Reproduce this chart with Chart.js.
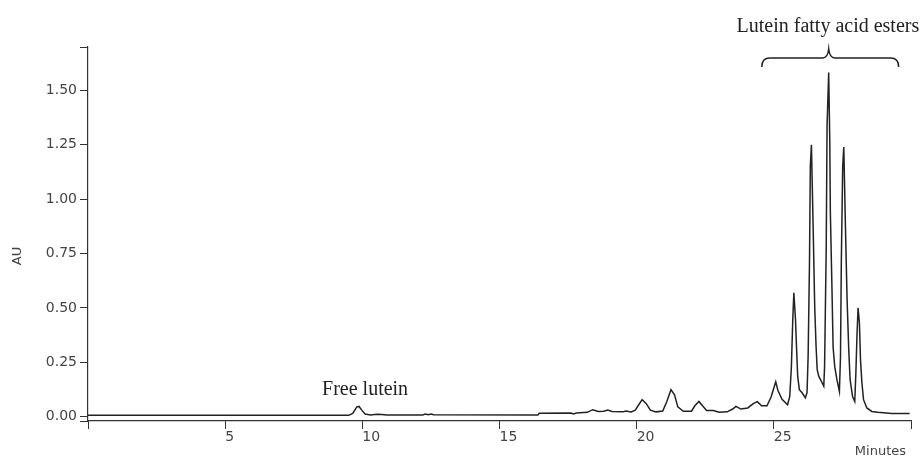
<!DOCTYPE html>
<html>
<head>
<meta charset="utf-8">
<script src="https://cdn.jsdelivr.net/npm/chart.js@4/dist/chart.umd.min.js"></script>
<style>
  html, body { margin: 0; padding: 0; background: #fff; }
  #wrap { width: 924px; height: 461px; position: relative; }
</style>
</head>
<body>
<div id="wrap"><canvas id="chromatogram"></canvas></div>
<script>
// retention time (min) and absorbance (AU)
const minutes = [
    0, 9.5, 9.65, 9.8, 9.88, 9.98, 10.1, 10.3, 10.45, 10.55, 10.7, 10.9,
    12.2, 12.3, 12.4, 12.5, 12.6, 16.4, 16.45, 17.6, 17.7, 17.8, 18.2, 18.4,
    18.6, 18.8, 18.95, 19.1, 19.5, 19.6, 19.8, 19.95, 20.05, 20.2, 20.35, 20.5,
    20.7, 20.95, 21.1, 21.25, 21.38, 21.5, 21.7, 22.0, 22.12, 22.27, 22.4, 22.55,
    22.8, 23.0, 23.3, 23.5, 23.62, 23.8, 24.05, 24.25, 24.4, 24.55, 24.75, 24.9,
    25.07, 25.15, 25.3, 25.5, 25.58, 25.64, 25.69, 25.73, 25.79, 25.83, 25.87, 25.93,
    26.03, 26.15, 26.21, 26.25, 26.3, 26.33, 26.37, 26.43, 26.49, 26.54, 26.58, 26.64,
    26.76, 26.82, 26.85, 26.88, 26.91, 26.94, 27.0, 27.04, 27.06, 27.12, 27.16, 27.22,
    27.3, 27.39, 27.43, 27.46, 27.51, 27.55, 27.61, 27.67, 27.73, 27.78, 27.87, 27.95,
    27.99, 28.03, 28.07, 28.12, 28.16, 28.21, 28.27, 28.39, 28.57, 28.79, 29.3, 29.95
];
const absorbance = [
    0.006, 0.006, 0.015, 0.045, 0.047, 0.03, 0.012, 0.008, 0.01, 0.011, 0.01, 0.008,
    0.008, 0.012, 0.009, 0.012, 0.009, 0.008, 0.016, 0.017, 0.012, 0.017, 0.02, 0.032,
    0.024, 0.025, 0.03, 0.024, 0.022, 0.026, 0.022, 0.03, 0.05, 0.078, 0.06, 0.03,
    0.022, 0.026, 0.07, 0.124, 0.1, 0.045, 0.025, 0.025, 0.05, 0.07, 0.05, 0.028,
    0.028, 0.02, 0.022, 0.035, 0.047, 0.035, 0.04, 0.06, 0.069, 0.05, 0.05, 0.09,
    0.16, 0.12, 0.08, 0.055, 0.093, 0.23, 0.446, 0.57, 0.446, 0.31, 0.185, 0.124,
    0.11, 0.087, 0.11, 0.277, 0.71, 1.15, 1.25, 0.89, 0.507, 0.323, 0.216, 0.185,
    0.156, 0.14, 0.23, 0.507, 0.78, 1.335, 1.583, 1.26, 0.94, 0.584, 0.32, 0.23,
    0.17, 0.116, 0.277, 0.71, 1.15, 1.24, 0.875, 0.54, 0.31, 0.17, 0.093, 0.07,
    0.2, 0.37, 0.5, 0.43, 0.26, 0.156, 0.078, 0.04, 0.024, 0.02, 0.015, 0.014
];
const xTicks = [0, 5, 10, 15, 20, 25, 30];
const yTicks = [-0.02, 0, 0.25, 0.5, 0.75, 1.0, 1.25, 1.5, 1.7];

const axisColor = '#333';
const tickFont = { family: 'DejaVu Sans', size: 14 };

const annotations = {
    id: 'annotations',
    afterDraw(chart) {
        const { ctx, scales: { x, y } } = chart;
        ctx.save();
        ctx.fillStyle = '#222';
        ctx.textAlign = 'center';
        ctx.textBaseline = 'middle';
        ctx.font = '20px "Liberation Serif"';
        ctx.fillText('Free lutein', x.getPixelForValue(10.1), y.getPixelForValue(0.125));
        ctx.fillText('Lutein fatty acid esters', x.getPixelForValue(26.97), 27);

        // curly brace over the ester peaks
        const l = x.getPixelForValue(24.56), r = x.getPixelForValue(29.55), m = x.getPixelForValue(27.0);
        const yb = 58, ye = 67, yt = 49;
        ctx.strokeStyle = '#222';
        ctx.lineWidth = 1.5;
        ctx.beginPath();
        ctx.moveTo(l, ye);
        ctx.quadraticCurveTo(l, yb, l + 8, yb);
        ctx.lineTo(m - 6, yb);
        ctx.quadraticCurveTo(m - 1, yb, m, yt);
        ctx.quadraticCurveTo(m + 1, yb, m + 6, yb);
        ctx.lineTo(r - 8, yb);
        ctx.quadraticCurveTo(r, yb, r, ye);
        ctx.stroke();

        ctx.font = '13px "DejaVu Sans"';
        ctx.fillStyle = '#444';
        ctx.textAlign = 'right';
        ctx.fillText('Minutes', 906, 452);
        ctx.translate(18, 256);
        ctx.rotate(-Math.PI / 2);
        ctx.textAlign = 'center';
        ctx.fillText('AU', 0, 0);
        ctx.restore();
    },
};

new Chart(document.getElementById('chromatogram').getContext('2d'), {
    type: 'line',
    data: {
        datasets: [{
            data: minutes.map((t, i) => ({ x: t, y: absorbance[i] })),
            borderColor: '#222',
            borderWidth: 1.5,
            pointRadius: 0,
            tension: 0,
            fill: false,
        }],
    },
    options: {
        responsive: true,
        maintainAspectRatio: false,
        animation: false,
        layout: { padding: { top: 47, right: 13, left: 0, bottom: 0 } },
        plugins: { legend: { display: false }, tooltip: { enabled: false } },
        scales: {
            x: {
                type: 'linear',
                min: 0,
                max: 30,
                afterBuildTicks(scale) { scale.ticks = xTicks.map(v => ({ value: v })); },
                afterFit(scale) { scale.height = 40; },
                ticks: {
                    autoSkip: false,
                    align: 'start',
                    padding: 0,
                    color: '#444',
                    font: tickFont,
                    callback: v => (v === 0 || v === 30) ? '' : v,
                },
                grid: { drawOnChartArea: false, drawTicks: true, tickLength: 8, color: axisColor },
                border: { display: true, color: axisColor, width: 1.2 },
            },
            y: {
                min: -0.02,
                max: 1.7,
                afterBuildTicks(scale) { scale.ticks = yTicks.map(v => ({ value: v })); },
                afterFit(scale) { scale.width = 88; },
                ticks: {
                    autoSkip: false,
                    padding: 3,
                    color: '#444',
                    font: tickFont,
                    callback: v => (v < 0 || v > 1.6) ? '' : v.toFixed(2),
                },
                grid: { drawOnChartArea: false, drawTicks: true, tickLength: 8, color: axisColor },
                border: { display: true, color: axisColor, width: 1.2 },
            },
        },
    },
    plugins: [annotations],
});
</script>
</body>
</html>
